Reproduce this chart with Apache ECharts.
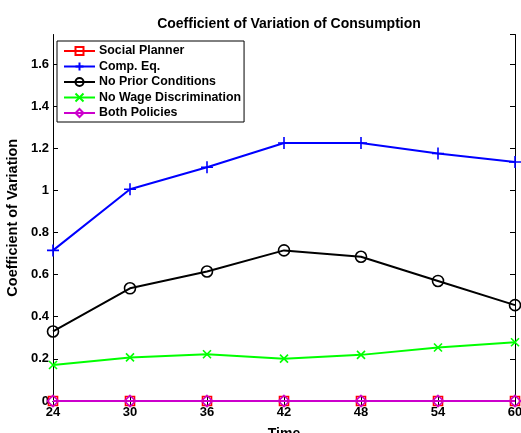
<!DOCTYPE html>
<html><head><meta charset="utf-8">
<script src="https://cdn.jsdelivr.net/npm/echarts@6/dist/echarts.min.js"></script>
<style>html,body{margin:0;padding:0;background:#fff}#c{width:521px;height:433px}</style>
</head><body><div id="c"></div>
<script>
const times = [24, 30, 36, 42, 48, 54, 60];
const socialPlanner = [0, 0, 0, 0, 0, 0, 0];
const compEq = [0.715, 1.005, 1.11, 1.225, 1.225, 1.175, 1.135];
const noPrior = [0.33, 0.535, 0.615, 0.715, 0.685, 0.57, 0.455];
const noWage = [0.171, 0.207, 0.222, 0.201, 0.219, 0.254, 0.279];
const bothPolicies = [0, 0, 0, 0, 0, 0, 0];
const yTicks = [0, 0.2, 0.4, 0.6, 0.8, 1, 1.2, 1.4, 1.6];

const pair = arr => arr.map((v, i) => [times[i], v]);
const F = 'Liberation Sans, Arial, Helvetica, sans-serif';
function mk(name, data, color, symbol, size, fill) {
  return {
    name, type: 'line', data: pair(data), symbol, symbolSize: size,
    lineStyle: {color, width: 2}, showAllSymbol: true,
    itemStyle: {color: fill || 'rgba(0,0,0,0)', borderColor: color, borderWidth: 1.6},
    emphasis: {disabled: true}, z: 3
  };
}
const chart = echarts.init(document.getElementById('c'), null, {renderer: 'canvas'});
const tickFmt = v => (yTicks.some(t => Math.abs(t - v) < 1e-9) ? String(+v.toFixed(1)) : '');
chart.setOption({
  animation: false,
  title: {text: 'Coefficient of Variation of Consumption', left: 284, textAlign: 'center', top: 12,
    textStyle: {fontFamily: F, fontWeight: 'bold', fontSize: 14, color: '#000'}},
  grid: {left: 53, right: 6, top: 34.5, bottom: 32, outerBoundsMode: 'none', containLabel: false},
  legend: {
    orient: 'vertical', left: 57, top: 41, itemWidth: 31, itemHeight: 10, itemGap: 3.5,
    padding: [4, 3, 3, 6], borderColor: '#000', borderWidth: 1, backgroundColor: '#fff',
    textStyle: {fontFamily: F, fontWeight: 'bold', fontSize: 12.4, color: '#000', padding: [0,0,0,-1]},
    data: ['Social Planner', 'Comp. Eq.', 'No Prior Conditions', 'No Wage Discrimination', 'Both Policies']
  },
  xAxis: [
    {type: 'value', min: 24, max: 60, interval: 6, name: 'Time', nameLocation: 'middle', nameGap: 26,
     nameTextStyle: {fontFamily: F, fontWeight: 'bold', fontSize: 14, color: '#000'},
     axisLine: {lineStyle: {color: '#000', width: 1}}, axisTick: {inside: true, length: 5, lineStyle: {color: '#000'}},
     axisLabel: {fontFamily: F, fontWeight: 'bold', fontSize: 13, color: '#000', margin: 5}, splitLine: {show: false}},
    {type: 'value', position: 'top', min: 24, max: 60, interval: 6,
     axisLine: {lineStyle: {color: '#000', width: 1}}, axisTick: {inside: true, length: 5, lineStyle: {color: '#000'}},
     axisLabel: {show: false}, splitLine: {show: false}}
  ],
  yAxis: [
    {type: 'value', min: 0, max: 1.74, interval: 0.2, name: 'Coefficient of Variation', nameLocation: 'middle', nameGap: 26,
     nameTextStyle: {fontFamily: F, fontWeight: 'bold', fontSize: 14.5, color: '#000'},
     axisLine: {show: true, lineStyle: {color: '#000', width: 1}}, axisTick: {show: true, inside: true, length: 5, lineStyle: {color: '#000'}},
     axisLabel: {fontFamily: F, fontWeight: 'bold', fontSize: 13, color: '#000', margin: 4, formatter: tickFmt, showMaxLabel: false},
     splitLine: {show: false}},
    {type: 'value', position: 'right', min: 0, max: 1.74, interval: 0.2,
     axisLine: {show: true, lineStyle: {color: '#000', width: 1}}, axisTick: {show: true, inside: true, length: 5, lineStyle: {color: '#000'}},
     axisLabel: {show: false}, splitLine: {show: false}}
  ],
  series: [
    mk('Social Planner', socialPlanner, '#ff0000', 'rect', 9),
    mk('Comp. Eq.', compEq, '#0000ff', 'path://M0,-1L0,1M-1,0L1,0', 12),
    mk('No Prior Conditions', noPrior, '#000000', 'circle', 11),
    mk('No Wage Discrimination', noWage, '#00ff00', 'path://M-1,-1L1,1M-1,1L1,-1', 8),
    mk('Both Policies', bothPolicies, '#cc00cc', 'diamond', 11)
  ]
});
</script></body></html>
